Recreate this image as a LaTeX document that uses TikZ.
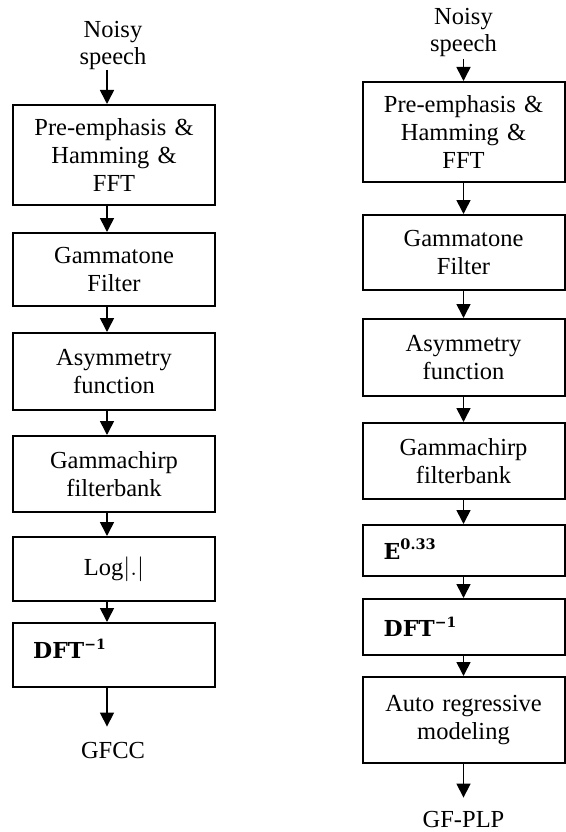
\documentclass[tikz,border=0pt]{standalone}
\usepackage{fontspec}
\setmainfont{Liberation Serif}
\newfontfamily\slabfont{DejaVu Serif}
\usetikzlibrary{arrows.meta}

\tikzstyle{stage} = [rectangle, draw=black, line width=2pt, text width=188pt, inner xsep=7pt, inner ysep=0pt, align=center, font=\fontsize{24.5}{28}\selectfont]
\tikzstyle{term} = [align=center, inner sep=0pt, font=\fontsize{24.5}{27}\selectfont]
\tikzstyle{flow} = [line width=1.6pt, -{Triangle[length=14pt,width=14pt]}]
\tikzstyle{pasted} = [anchor=base west, inner sep=0pt, font=\slabfont\bfseries\fontsize{22}{22}\selectfont]

\newcommand{\dftinv}{DFT\raisebox{9pt}{\fontsize{14}{14}\selectfont −1}}
\newcommand{\epow}{E\raisebox{10pt}{\fontsize{14.5}{14.5}\selectfont 0.33}}

\begin{document}
\begin{tikzpicture}[x=1pt, y=-1pt]
    \useasboundingbox (0,0) rectangle (565,832);

    % GFCC chain
    \node[term, anchor=south] (in1) at (113,70) {Noisy\\speech};
    \node[stage, minimum height=100pt] (pre1) at (114,155) {Pre-emphasis \&\\Hamming \&\\FFT};
    \node[stage, minimum height=73pt] (gamma1) at (114,269.5) {Gammatone\\Filter};
    \node[stage, minimum height=77pt] (asym1) at (114,371.5) {Asymmetry\\function};
    \node[stage, minimum height=76pt] (chirp1) at (114,474) {Gammachirp\\filterbank};
    \node[stage, minimum height=64pt] (log1) at (114,569) {Log$|.|$};
    \node[stage, minimum height=64pt, label={[pasted, xshift=21pt, yshift=-36pt]north west:\dftinv}] (idft1) at (114,655) {};
    \node[term, inner ysep=15pt] (gfcc) at (113,750) {GFCC};

    \draw [flow] ([xshift=-6pt]in1.south) -- ([xshift=-7pt]pre1.north);
    \draw [flow] ([xshift=-7pt]pre1.south) -- ([xshift=-7pt]gamma1.north);
    \draw [flow] ([xshift=-7pt]gamma1.south) -- ([xshift=-7pt]asym1.north);
    \draw [flow] ([xshift=-7pt]asym1.south) -- ([xshift=-7pt]chirp1.north);
    \draw [flow] ([xshift=-7pt]chirp1.south) -- ([xshift=-7pt]log1.north);
    \draw [flow] ([xshift=-7pt]log1.south) -- ([xshift=-7pt]idft1.north);
    \draw [flow] ([xshift=-7pt]idft1.south) -- ([xshift=-6pt]gfcc.north);

    % GF-PLP chain
    \node[term, anchor=south] (in2) at (463.5,57) {Noisy\\speech};
    \node[stage, minimum height=100pt] (pre2) at (463.5,132) {Pre-emphasis \&\\Hamming \&\\FFT};
    \node[stage, minimum height=75pt] (gamma2) at (463.5,252.5) {Gammatone\\Filter};
    \node[stage, minimum height=77pt] (asym2) at (463.5,357.5) {Asymmetry\\function};
    \node[stage, minimum height=76pt] (chirp2) at (463.5,461) {Gammachirp\\filterbank};
    \node[stage, minimum height=51pt, label={[pasted, xshift=22pt, yshift=-35pt]north west:\epow}] (power2) at (463.5,550.5) {};
    \node[stage, minimum height=56pt, label={[pasted, xshift=22pt, yshift=-38pt]north west:\dftinv}] (idft2) at (463.5,627) {};
    \node[stage, minimum height=86pt] (ar2) at (463.5,720) {Auto regressive\\modeling};
    \node[term, inner ysep=13pt] (gfplp) at (463.5,819) {GF-PLP};

    \draw [flow] ([yshift=-2pt]in2.south) -- (pre2);
    \draw [flow] (pre2) -- (gamma2);
    \draw [flow] (gamma2) -- (asym2);
    \draw [flow] (asym2) -- (chirp2);
    \draw [flow] (chirp2) -- (power2);
    \draw [flow] (power2) -- (idft2);
    \draw [flow] (idft2) -- (ar2);
    \draw [flow] (ar2) -- (gfplp);
\end{tikzpicture}
\end{document}
